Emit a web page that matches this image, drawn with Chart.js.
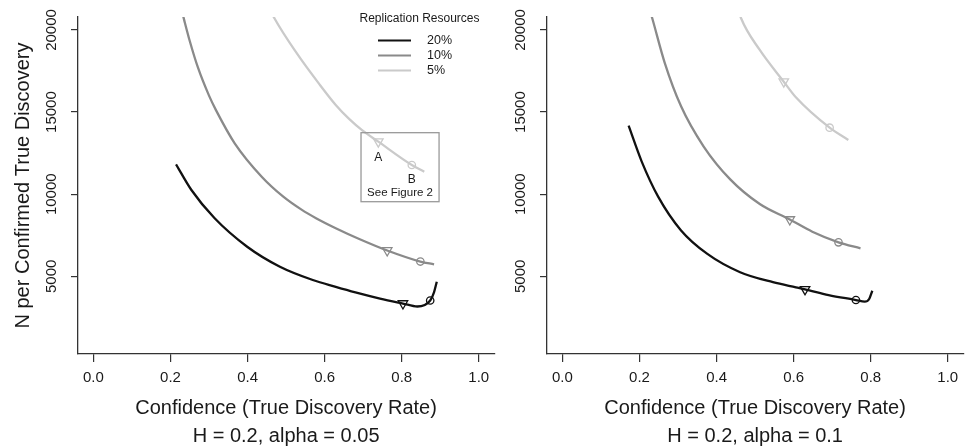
<!DOCTYPE html>
<html>
<head>
<meta charset="utf-8">
<script src="https://cdn.jsdelivr.net/npm/chart.js@4.4.1/dist/chart.umd.min.js"></script>
<style>
  html, body { margin: 0; padding: 0; background: #fff; width: 968px; height: 446px; overflow: hidden; }
  canvas { position: absolute; top: 0; }
  #leftChart { left: 0; }
  #rightChart { left: 469px; }
</style>
</head>
<body>
<canvas id="leftChart" width="501" height="446"></canvas>
<canvas id="rightChart" width="501" height="446"></canvas>
<script>
// H = 0.2, alpha = 0.05 (left panel)
const x20_a05 = [0.2144, 0.2543, 0.3140, 0.3990, 0.4840, 0.5693, 0.6288, 0.6799, 0.7437, 0.8032, 0.8407, 0.8739, 0.8840, 0.8910];
const y20_a05 = [11821, 10256, 8550, 6803, 5585, 4775, 4361, 4026, 3648, 3344, 3161, 3527, 4044, 4671];
const x10_a05 = [0.2254, 0.2356, 0.2500, 0.2714, 0.3000, 0.3180, 0.3666, 0.4373, 0.4927, 0.5400, 0.5777, 0.6288, 0.6883, 0.7623, 0.8484, 0.8840];
const y10_a05 = [21546, 20600, 19330, 17700, 16000, 15120, 13100, 11050, 9850, 9060, 8540, 7930, 7290, 6575, 5900, 5730];
const x5_a05 = [0.4552, 0.4697, 0.5271, 0.5862, 0.6288, 0.6628, 0.6970, 0.7393, 0.8262, 0.8586];
const y5_a05 = [21400, 20713, 18600, 16700, 15433, 14600, 13900, 13198, 11778, 11370];
const triX_a05 = [0.8032, 0.7623, 0.7393];
const triY_a05 = [3344, 6575, 13198];
const circX_a05 = [0.8739, 0.8484, 0.8262];
const circY_a05 = [3527, 5900, 11778];

// H = 0.2, alpha = 0.1 (right panel)
const x20_a10 = [0.1718, 0.2058, 0.2484, 0.3079, 0.3761, 0.4611, 0.5463, 0.6058, 0.6296, 0.6908, 0.7616, 0.7845, 0.7960, 0.8042];
const y20_a10 = [14172, 11986, 9854, 7795, 6364, 5250, 4641, 4330, 4209, 3862, 3557, 3454, 3619, 4123];
const x10_a10 = [0.2229, 0.2331, 0.2655, 0.3079, 0.3666, 0.4355, 0.5121, 0.5900, 0.6485, 0.7164, 0.7735];
const y10_a10 = [21520, 20713, 18000, 15350, 12900, 10900, 9400, 8460, 7716, 7071, 6705];
const x5_a10 = [0.4528, 0.4636, 0.5121, 0.5744, 0.6058, 0.6934, 0.7419];
const y5_a10 = [21520, 20713, 18782, 16851, 15901, 14050, 13301];
const triX_a10 = [0.6296, 0.5900, 0.5744];
const triY_a10 = [4209, 8460, 16851];
const circX_a10 = [0.7616, 0.7164, 0.6934];
const circY_a10 = [3557, 7071, 14050];

// axis ticks
const xTickVals = [0, 0.2, 0.4, 0.6, 0.8, 1.0];
const yTickVals = [5000, 10000, 15000, 20000];

const seriesLabels = ['20%', '10%', '5%'];
const seriesColors = ['#111111', '#8a8a8a', '#cacaca'];

Chart.defaults.font.family = '"Liberation Sans", Arial, Helvetica, sans-serif';
Chart.defaults.color = '#1a1a1a';

const toPoints = (xs, ys) => xs.map((x, i) => ({ x: x, y: ys[i] }));

// legend drawn inside the left panel
const legendPlugin = {
  id: 'rrLegend',
  afterDraw(chart) {
    const ctx = chart.ctx;
    ctx.save();
    ctx.fillStyle = '#1a1a1a';
    ctx.textBaseline = 'middle';
    ctx.font = '12px "Liberation Sans", Arial, sans-serif';
    ctx.textAlign = 'center';
    ctx.fillText('Replication Resources', 419.5, 18.5);
    ctx.textAlign = 'left';
    ctx.font = '12.5px "Liberation Sans", Arial, sans-serif';
    seriesLabels.forEach((lab, i) => {
      const yy = 40.5 + i * 15;
      ctx.strokeStyle = seriesColors[i];
      ctx.lineWidth = 2.2;
      ctx.beginPath();
      ctx.moveTo(378, yy);
      ctx.lineTo(411, yy);
      ctx.stroke();
      ctx.fillText(lab, 427, yy + 0.5);
    });
    ctx.restore();
  }
};

// "See Figure 2" box around the A / B markers
const figBoxPlugin = {
  id: 'figBox',
  afterDatasetsDraw(chart) {
    const ctx = chart.ctx;
    const xs = chart.scales.x, ys = chart.scales.y;
    const l = xs.getPixelForValue(0.6944), r = xs.getPixelForValue(0.8969);
    const t = ys.getPixelForValue(13746), b = ys.getPixelForValue(9544);
    ctx.save();
    ctx.strokeStyle = '#9a9a9a';
    ctx.lineWidth = 1.3;
    ctx.strokeRect(l, t, r - l, b - t);
    ctx.fillStyle = '#1a1a1a';
    ctx.font = '12px "Liberation Sans", Arial, sans-serif';
    ctx.textAlign = 'center';
    ctx.textBaseline = 'middle';
    ctx.fillText('A', xs.getPixelForValue(triX_a05[2]), ys.getPixelForValue(triY_a05[2]) + 16.5);
    ctx.fillText('B', xs.getPixelForValue(circX_a05[2]), ys.getPixelForValue(circY_a05[2]) + 15);
    ctx.font = '11.5px "Liberation Sans", Arial, sans-serif';
    ctx.fillText('See Figure 2', (l + r) / 2, b - 8.5);
    ctx.restore();
  }
};

function makePanel(id, lines, tris, circs, subtitle, showYTitle, plugins) {
  const datasets = lines.map((ln, i) => ({
    label: seriesLabels[i],
    data: toPoints(ln[0], ln[1]),
    showLine: true,
    borderColor: seriesColors[i],
    borderWidth: 2.3,
    pointRadius: 0,
    cubicInterpolationMode: 'monotone'
  }));
  datasets.push({
    label: 'triangles',
    data: toPoints(tris[0], tris[1]),
    showLine: false,
    pointStyle: 'triangle',
    rotation: 180,
    pointRadius: 5.5,
    pointBorderWidth: 1.3,
    pointBorderColor: seriesColors,
    pointBackgroundColor: '#ffffff'
  });
  datasets.push({
    label: 'circles',
    data: toPoints(circs[0], circs[1]),
    showLine: false,
    pointStyle: 'circle',
    pointRadius: 3.7,
    pointBorderWidth: 1.3,
    pointBorderColor: seriesColors,
    pointBackgroundColor: '#ffffff'
  });

  const axisGrid = { display: true, drawOnChartArea: false, drawTicks: true, color: '#333', lineWidth: 1.2 };
  const axisBorder = { display: true, color: '#333', width: 1.3 };

  return new Chart(document.getElementById(id).getContext('2d'), {
    type: 'scatter',
    data: { datasets: datasets },
    options: {
      responsive: false,
      animation: false,
      layout: { padding: { top: 17, right: 0, bottom: 0, left: 0 } },
      plugins: { legend: { display: false }, tooltip: { enabled: false } },
      scales: {
        x: {
          type: 'linear',
          min: -0.04,
          max: 1.04,
          afterBuildTicks: s => { s.ticks = xTickVals.map(v => ({ value: v })); },
          ticks: {
            autoSkip: false,
            maxRotation: 0,
            minRotation: 0,
            padding: 7,
            font: { size: 15 },
            callback: v => Number(v).toFixed(1)
          },
          grid: Object.assign({ tickLength: 8 }, axisGrid),
          border: axisBorder,
          title: {
            display: true,
            text: ['Confidence (True Discovery Rate)', subtitle],
            font: { size: 20, lineHeight: 1.375 },
            padding: { top: 0, bottom: -4 }
          },
          afterFit: s => { s.height = 92; }
        },
        y: {
          type: 'linear',
          min: 270,
          max: 20790,
          afterBuildTicks: s => { s.ticks = yTickVals.map(v => ({ value: v })); },
          ticks: {
            autoSkip: false,
            minRotation: 90,
            maxRotation: 90,
            crossAlign: 'center',
            padding: -2,
            font: { size: 15 },
            callback: v => String(v)
          },
          grid: Object.assign({ tickLength: 7 }, axisGrid),
          border: axisBorder,
          title: {
            display: showYTitle,
            text: 'N per Confirmed True Discovery',
            font: { size: 20 },
            padding: { top: 11, bottom: 0 }
          },
          afterFit: s => { s.width = 78; }
        }
      }
    },
    plugins: plugins
  });
}

makePanel('leftChart',
  [[x20_a05, y20_a05], [x10_a05, y10_a05], [x5_a05, y5_a05]],
  [triX_a05, triY_a05], [circX_a05, circY_a05],
  'H = 0.2, alpha = 0.05', true, [figBoxPlugin, legendPlugin]);

makePanel('rightChart',
  [[x20_a10, y20_a10], [x10_a10, y10_a10], [x5_a10, y5_a10]],
  [triX_a10, triY_a10], [circX_a10, circY_a10],
  'H = 0.2, alpha = 0.1', false, []);
</script>
</body>
</html>
